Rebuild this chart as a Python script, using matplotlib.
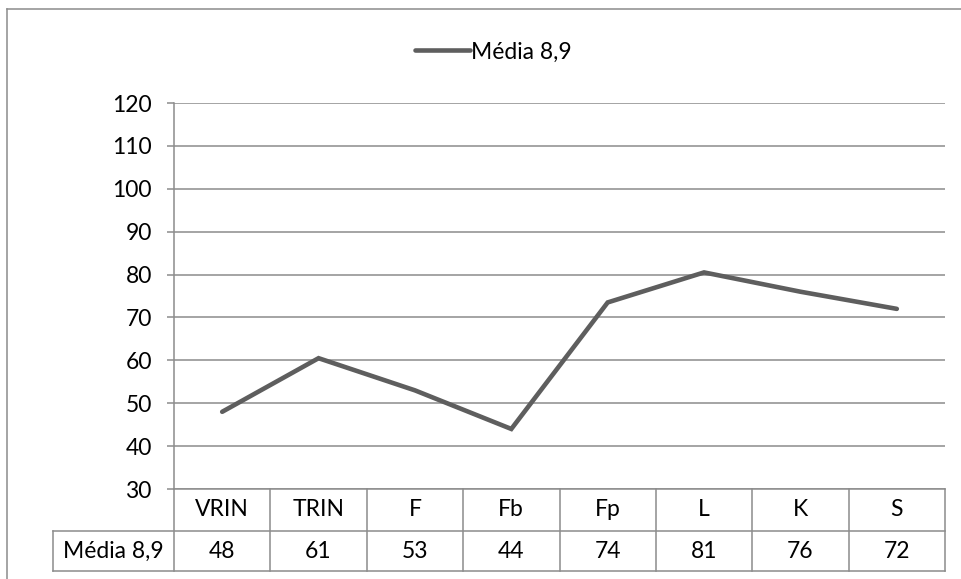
import numpy as np
import matplotlib.pyplot as plt
from matplotlib.lines import Line2D
import matplotlib.transforms as mtransforms

# data
categories = ['VRIN', 'TRIN', 'F', 'Fb', 'Fp', 'L', 'K', 'S']
series_name = 'Média 8,9'
values = [48, 60.5, 53, 44, 73.5, 80.5, 76, 72]   # plotted (unrounded)
table_values = [48, 61, 53, 44, 74, 81, 76, 72]   # shown in the data table
y_ticks = [30, 40, 50, 60, 70, 80, 90, 100, 110, 120]

plt.rcParams['font.family'] = ['Lato', 'DejaVu Sans']
grid_color = '#8c8c8c'
line_color = '#5e5e5e'
fs = 16.5

W, H = 962, 579
fig = plt.figure(figsize=(W / 100, H / 100), dpi=100)

# axes placed in pixel coords
x0, x1, ytop, ybot = 174, 945, 103, 489
ax = fig.add_axes([x0 / W, 1 - ybot / H, (x1 - x0) / W, (ybot - ytop) / H])

x = np.arange(len(categories))
ax.plot(x, values, color=line_color, lw=3.3, solid_capstyle='round',
        solid_joinstyle='miter', label=series_name, zorder=3)

ax.set_xlim(-0.5, len(categories) - 0.5)
ax.set_ylim(30, 120)
ax.set_yticks(y_ticks)
ax.set_xticks([])
ax.yaxis.grid(True, color=grid_color, lw=1.1)
ax.set_axisbelow(True)
for side in ['top', 'right', 'bottom']:
    ax.spines[side].set_visible(False)
ax.spines['left'].set_color(grid_color)
ax.spines['left'].set_linewidth(1.1)
ax.tick_params(axis='y', length=5, width=1.1, color=grid_color,
               labelsize=fs, pad=11)

# data table under the axes
blend = mtransforms.blended_transform_factory(ax.transData, ax.transAxes)
row_h = 42 / (ybot - ytop)
tab_bottom = -82 / (ybot - ytop)
left_edge = (53 - x0) / (x1 - x0)
lkw = dict(color=grid_color, lw=1.1, clip_on=False)

# horizontal lines
ax.plot([left_edge, 1], [-row_h, -row_h], transform=ax.transAxes, **lkw)
ax.plot([left_edge, 1], [tab_bottom, tab_bottom], transform=ax.transAxes, **lkw)
ax.plot([0, 1], [0, 0], transform=ax.transAxes, **lkw)
# vertical lines
for b in np.arange(len(categories) + 1) - 0.5:
    ax.plot([b, b], [0, tab_bottom], transform=blend, **lkw)
ax.plot([left_edge, left_edge], [-row_h, tab_bottom], transform=ax.transAxes, **lkw)

for i, (c, v) in enumerate(zip(categories, table_values)):
    ax.text(i, -row_h / 2, c, transform=blend, ha='center', va='center', fontsize=fs)
    ax.text(i, (-row_h + tab_bottom) / 2, str(v), transform=blend,
            ha='center', va='center', fontsize=fs)
ax.text((left_edge + 0) / 2, (-row_h + tab_bottom) / 2, series_name,
        transform=ax.transAxes, ha='center', va='center', fontsize=fs)

# legend
leg = fig.legend(loc='center', bbox_to_anchor=(493 / W, 1 - 52 / H),
                 frameon=False, fontsize=fs, handlelength=2.4, handletextpad=0.05)

# outer chart border (left + top only visible)
fig.add_artist(Line2D([7 / W, 7 / W], [0, 1 - 8.5 / H], color=grid_color, lw=1.1))
fig.add_artist(Line2D([7 / W, 1], [1 - 8.5 / H, 1 - 8.5 / H], color=grid_color, lw=1.1))

fig.savefig('out.png', dpi=100)
